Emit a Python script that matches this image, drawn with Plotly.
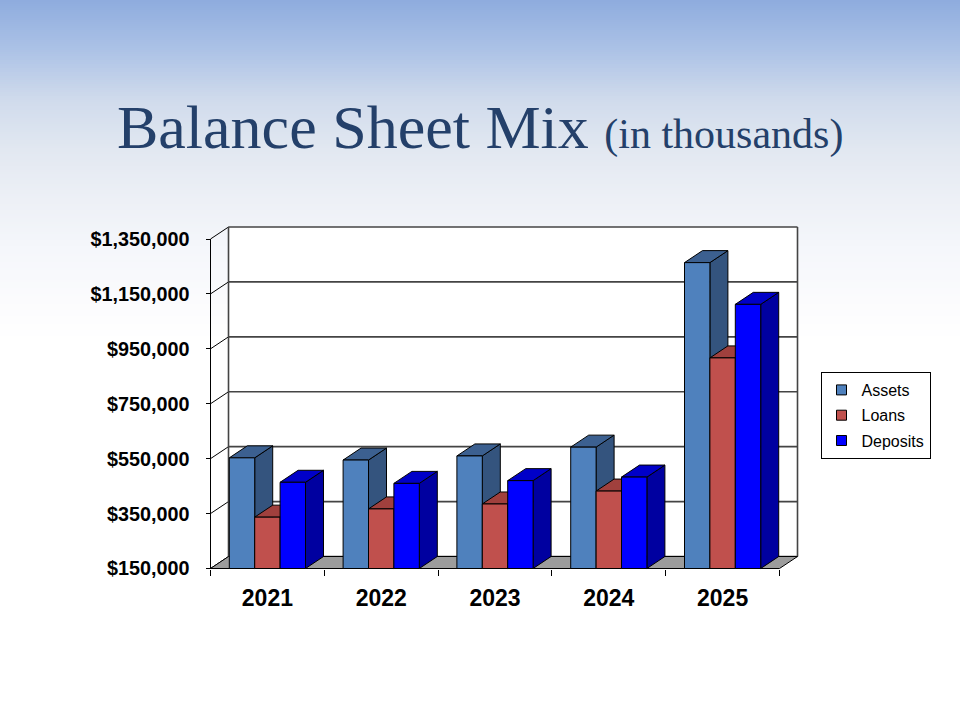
import plotly.graph_objects as go

# ---------------- data ----------------
years = ["2021", "2022", "2023", "2024", "2025"]
series_names = ["Assets", "Loans", "Deposits"]
assets = [553000, 545000, 560000, 592000, 1264000]
loans = [337000, 367000, 385000, 432000, 917000]
deposits = [464000, 460000, 470000, 483000, 1112000]
tick_values = [150000, 350000, 550000, 750000, 950000, 1150000, 1350000]
tick_labels = ["$150,000", "$350,000", "$550,000", "$750,000",
               "$950,000", "$1,150,000", "$1,350,000"]

# ---------------- styles ----------------
front_colors = ["#4F81BD", "#C0504D", "#0000FF"]
top_colors = ["#3C6090", "#A0403D", "#0000C8"]
side_colors = ["#34547E", "#8B3532", "#0000A0"]

W, H = 960, 720
PX_X0, PX_X5 = 210.5, 779.5        # front plane: category 0 .. 5
PX_YMIN, PX_YMAX = 568.5, 239.0    # front plane: 150,000 .. 1,350,000
YMIN, YMAX = tick_values[0], tick_values[-1]
NCAT = len(years)
sx = (PX_X5 - PX_X0) / NCAT
sy = (PX_YMIN - PX_YMAX) / (YMAX - YMIN)
DX = 18 / sx          # depth offset in x units
DY = 12 / sy          # depth offset in y units
BW = 25.4 / sx        # bar width
padx, pady = 0.02, 8000
xrange_ = [-padx, NCAT + DX + padx]
yrange_ = [YMIN - pady, YMAX + DY + pady]
dom_x = [(PX_X0 - padx * sx) / W, (PX_X5 + (DX + padx) * sx) / W]
dom_y = [1 - (PX_YMIN + pady * sy) / H, 1 - (PX_YMAX - (DY + pady) * sy) / H]

fig = go.Figure()


def poly(xs, ys, fill, lc="black", lw=1):
    fig.add_trace(go.Scatter(x=list(xs) + [xs[0]], y=list(ys) + [ys[0]],
                             mode="lines", fill="toself", fillcolor=fill,
                             line=dict(color=lc, width=lw),
                             hoverinfo="skip", showlegend=False))


def line(xs, ys, color, width):
    fig.add_trace(go.Scatter(x=xs, y=ys, mode="lines",
                             line=dict(color=color, width=width),
                             hoverinfo="skip", showlegend=False))


# back wall
poly([DX, NCAT + DX, NCAT + DX, DX],
     [YMIN + DY, YMIN + DY, YMAX + DY, YMAX + DY], "white", "rgba(0,0,0,0)", 0)

# gridlines on back wall + diagonals on left wall
gx, gy, dxs, dys = [], [], [], []
for v in tick_values:
    gx += [DX, NCAT + DX, None]
    gy += [v + DY, v + DY, None]
    dxs += [0, DX, None]
    dys += [v, v + DY, None]
line(gx, gy, "#444444", 1.6)
line(dxs, dys, "black", 1)
# back wall vertical edges
line([DX, DX, None, NCAT + DX, NCAT + DX],
     [YMIN + DY, YMAX + DY, None, YMIN + DY, YMAX + DY], "#444444", 1.6)

# floor
poly([0, NCAT, NCAT + DX, DX], [YMIN, YMIN, YMIN + DY, YMIN + DY], "#9C9C9C", "black", 1)

# y axis line (front)
line([0, 0], [YMIN, YMAX], "black", 1)

# bars (pseudo 3D)
all_series = [assets, loans, deposits]
for k, vals in enumerate(all_series):
    for i, v in enumerate(vals):
        xl = i + 0.5 - 1.5 * BW + k * BW
        xr = xl + BW
        b = YMIN
        poly([xr, xr + DX, xr + DX, xr], [b, b + DY, v + DY, v], side_colors[k])
        poly([xl, xr, xr + DX, xl + DX], [v, v, v + DY, v + DY], top_colors[k])
        poly([xl, xr, xr, xl], [b, b, v, v], front_colors[k])

# legend entries
for k, name in enumerate(series_names):
    fig.add_trace(go.Scatter(x=[None], y=[None], mode="markers", name=name,
                             legendgroup=name,
                             marker=dict(symbol="square", size=10, color=front_colors[k],
                                         line=dict(color="black", width=1))))

# gradient background stripes
stops = [(0, (142, 172, 222)), (50, (172, 194, 230)), (100, (208, 219, 236)),
         (150, (226, 232, 241)), (200, (237, 240, 246)), (250, (245, 247, 251)),
         (300, (251, 251, 253)), (340, (255, 255, 255))]


def col_at(y):
    for (y0, c0), (y1, c1) in zip(stops[:-1], stops[1:]):
        if y0 <= y <= y1:
            t = (y - y0) / (y1 - y0)
            return "rgb(%d,%d,%d)" % tuple(round(a + (b_ - a) * t) for a, b_ in zip(c0, c1))
    return "rgb(255,255,255)"


shapes = []
step = 2
for y in range(0, 342, step):
    shapes.append(dict(type="rect", xref="paper", yref="paper", layer="below",
                       x0=0, x1=1, y0=1 - (y + step + 1.5) / H, y1=1 - y / H,
                       fillcolor=col_at(y + step / 2), line=dict(width=0)))

fig.update_layout(
    width=W, height=H,
    autosize=False,
    template="none",
    margin=dict(l=0, r=0, t=0, b=0, pad=0),
    paper_bgcolor="white",
    plot_bgcolor="rgba(0,0,0,0)",
    shapes=shapes,
    showlegend=True,
    legend=dict(x=875.5 / W, y=1 - 372 / H, xanchor="center", yanchor="top",
                bgcolor="white", bordercolor="black", borderwidth=1,
                font=dict(family="Liberation Sans, Arial", size=16, color="black"),
                traceorder="grouped", tracegroupgap=1.5, itemwidth=30),
    xaxis=dict(domain=dom_x, range=xrange_, anchor="free", position=1 - PX_YMIN / H,
               automargin=False,
               tickmode="array", tickvals=[i + 0.5 for i in range(NCAT)], ticktext=years,
               ticks="", showgrid=False, zeroline=False, showline=False,
               tickfont=dict(family="Liberation Sans, Arial", size=23, color="black",
                             weight="bold"),
               ticklabelstandoff=13,
               minor=dict(tickmode="array", tickvals=list(range(NCAT + 1)),
                          ticks="outside", ticklen=6, tickcolor="black", tickwidth=1,
                          showgrid=False)),
    yaxis=dict(domain=dom_y, range=yrange_, anchor="free", position=PX_X0 / W,
               automargin=False,
               tickmode="array", tickvals=tick_values, ticktext=tick_labels,
               ticks="outside", ticklen=5, tickcolor="black", tickwidth=1,
               showgrid=False, zeroline=False, showline=False,
               tickfont=dict(family="Liberation Sans, Arial", size=19.8, color="black",
                             weight="bold"),
               ticklabelstandoff=12),
    annotations=[dict(
        text="Balance Sheet Mix <span style='font-size:42px'>(in thousands)</span>",
        x=480 / W, y=1 - 127 / H, xref="paper", yref="paper",
        xanchor="center", yanchor="middle", showarrow=False,
        font=dict(family="Liberation Serif, Times New Roman, serif", size=62,
                  color="#24406A"))],
)

fig.write_html("out.html")
